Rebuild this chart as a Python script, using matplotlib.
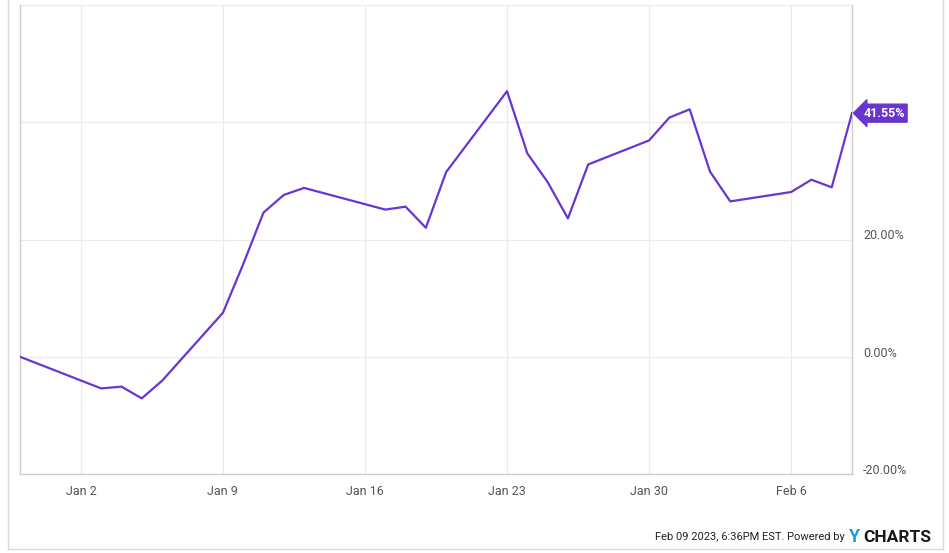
import numpy as np
import pandas as pd
import matplotlib
matplotlib.use("Agg")
from matplotlib import pyplot as plt
import matplotlib.dates as mdates
from matplotlib.patches import Rectangle
from matplotlib.transforms import ScaledTranslation

plt.rcParams['font.family'] = ['Roboto', 'DejaVu Sans']

# trading days and total return (%)
dates = ['2022-12-30', '2023-01-03', '2023-01-04', '2023-01-05', '2023-01-06',
         '2023-01-09', '2023-01-10', '2023-01-11', '2023-01-12', '2023-01-13',
         '2023-01-17', '2023-01-18', '2023-01-19', '2023-01-20',
         '2023-01-23', '2023-01-24', '2023-01-25', '2023-01-26', '2023-01-27',
         '2023-01-30', '2023-01-31', '2023-02-01', '2023-02-02', '2023-02-03',
         '2023-02-06', '2023-02-07', '2023-02-08', '2023-02-09']
values = [0.0, -5.4, -5.1, -7.1, -4.1,
          7.5, 15.8, 24.6, 27.6, 28.8,
          25.1, 25.6, 22.0, 31.5,
          45.3, 34.7, 29.8, 23.6, 32.8,
          36.9, 40.8, 42.2, 31.6, 26.5,
          28.1, 30.2, 28.9, 41.55]

xtick_dates = ['2023-01-02', '2023-01-09', '2023-01-16', '2023-01-23', '2023-01-30', '2023-02-06']
xtick_labels = ['Jan 2', 'Jan 9', 'Jan 16', 'Jan 23', 'Jan 30', 'Feb 6']
ytick_vals = [-20, 0, 20]
ytick_labels = ['-20.00%', '0.00%', '20.00%']
grid_y = [0, 20, 40, 60]

x = pd.to_datetime(dates)
purple = '#6a35cf'
grey_txt = '#555555'

W, H = 949, 553
fig = plt.figure(figsize=(W/100, H/100), dpi=100)
ax = fig.add_axes([20/W, 1 - 474/H, (852-20)/W, (474-5)/H])

# outer frame
fig.patches.append(Rectangle((8/W, 4/H), (943-8)/W, 1.2, transform=fig.transFigure,
                             fill=False, edgecolor='#d9d9d9', linewidth=1))

for yv in grid_y:
    ax.axhline(yv, color='#ebebeb', linewidth=0.9, zorder=0)
for d in xtick_dates:
    ax.axvline(pd.Timestamp(d), color='#ebebeb', linewidth=0.9, zorder=0)

ax.plot(x, values, color=purple, linewidth=1.6, zorder=3)

ax.set_xlim(x[0], x[-1])
ax.set_ylim(-19.5, 60)

ax.spines['top'].set_visible(False)
for side in ['left', 'bottom', 'right']:
    ax.spines[side].set_color('#cccccc')
    ax.spines[side].set_linewidth(1)

ax.set_xticks(pd.to_datetime(xtick_dates))
ax.set_xticklabels(xtick_labels)
ax.tick_params(axis='x', length=0, pad=8, labelsize=9, labelcolor=grey_txt)

ax.yaxis.tick_right()
ax.set_yticks(ytick_vals)
ax.set_yticklabels(ytick_labels)
ax.tick_params(axis='y', length=0, pad=8, labelsize=9, labelcolor=grey_txt)
for lab in ax.get_yticklabels():
    lab.set_transform(lab.get_transform() + ScaledTranslation(0, 5/100, fig.dpi_scale_trans))

# last value flag
ax.annotate(f'{values[-1]:.2f}%', xy=(x[-1], values[-1]), xytext=(8, 0),
            textcoords='offset points', va='center', ha='left',
            color='white', fontsize=9, fontweight='bold',
            bbox=dict(boxstyle='larrow,pad=0.2', fc=purple, ec=purple),
            annotation_clip=False, zorder=5)

# footer
fig.text(845/W, 1 - 537/H, 'Feb 09 2023, 6:36PM EST. Powered by', ha='right', va='center',
         fontsize=8, color='#222222')
fig.text(849/W, 1 - 537/H, 'Y', ha='left', va='center', fontsize=13,
         fontweight='bold', color='#1a9be6')
fig.text(863/W, 1 - 537/H, 'CHARTS', ha='left', va='center', fontsize=12.5,
         fontweight='bold', color='#1a1a1a')

fig.savefig('out.png', dpi=100)
